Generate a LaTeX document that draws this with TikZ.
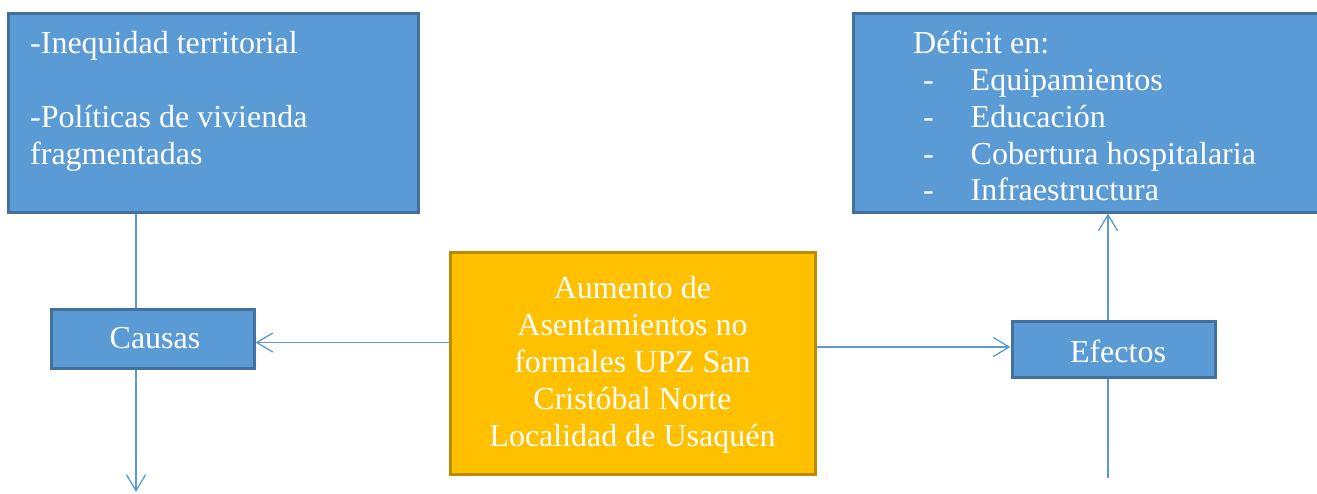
\documentclass[tikz,border=0pt]{standalone}
\usepackage{fontspec}
\setmainfont{Liberation Serif}
\usetikzlibrary{arrows.meta}
\definecolor{bfill}{HTML}{5B9BD5}
\definecolor{bdraw}{HTML}{41719C}
\definecolor{ofill}{HTML}{FFC000}
\definecolor{odraw}{HTML}{BC8C00}
\begin{document}
\begin{tikzpicture}[x=1pt,y=-1pt,
  bluebox/.style={draw=bdraw, fill=bfill, line width=3pt, inner sep=0pt},
  orangebox/.style={draw=odraw, fill=ofill, line width=3pt, inner sep=0pt},
  conn/.style={draw=bfill, line width=1.3pt},
  arr/.style={conn, -{Straight Barb[length=16pt,width=19pt,line width=1.3pt]}},
  txt/.style={text=white, inner sep=0pt, font=\fontsize{32}{37}\selectfont}]
\useasboundingbox (0,0) rectangle (1317,493);
% boxes
\node[bluebox, minimum width=410pt, minimum height=199pt] (tl) at (213,112.5) {};
\node[bluebox, minimum width=469pt, minimum height=199pt] (tr) at (1087.5,112.5) {};
\node[bluebox, minimum width=203pt, minimum height=59pt] (causas) at (152.5,338.5) {};
\node[bluebox, minimum width=203pt, minimum height=56pt] (efectos) at (1113.5,349) {};
\node[orangebox, minimum width=365pt, minimum height=222pt] (ctr) at (632.5,363) {};
% texts
\node[txt, anchor=base west] (tl1) at (30,53.5) {-Inequidad territorial};
\node[txt, anchor=base west] (tl2) at (30,127.5) {-Políticas de vivienda};
\node[txt, anchor=base west] (tl3) at (30,164) {fragmentadas};
\node[txt, anchor=base west] (tr0) at (913,53) {Déficit en:};
\node[txt, anchor=base west] (d1) at (923,90.5) {-};
\node[txt, anchor=base west] (d2) at (923,127.5) {-};
\node[txt, anchor=base west] (d3) at (923,164) {-};
\node[txt, anchor=base west] (d4) at (923,200.5) {-};
\node[txt, anchor=base west] (i1) at (970.5,90.5) {Equipamientos};
\node[txt, anchor=base west] (i2) at (970.5,127.5) {Educación};
\node[txt, anchor=base west] (i3) at (970.5,164) {Cobertura hospitalaria};
\node[txt, anchor=base west] (i4) at (970.5,200.5) {Infraestructura};
\node[txt] (causast) at (155,338.5) {Causas};
\node[txt] (efectost) at (1118,351) {Efectos};
\node[txt, align=center] (ctrt) at (632.5,365) {Aumento de\\Asentamientos no\\formales UPZ San\\Cristóbal Norte\\Localidad de Usaquén};
% connectors
\coordinate (cb) at (136,492);
\coordinate (eb) at (1108,478);
\draw[conn] (tl.south -| cb) -- (causas.north -| cb);
\draw[arr] (causas.south -| cb) -- (cb);
\draw[arr] ([yshift=-4pt]ctr.west |- causas.east) -- ([yshift=-4pt]causas.east);
\draw[arr] ([yshift=2pt]ctr.east |- efectos.west) -- ([yshift=2pt]efectos.west);
\draw[conn] (eb) -- (efectos.south -| eb);
\draw[arr] (efectos.north -| eb) -- (tr.south -| eb);
\end{tikzpicture}
\end{document}
